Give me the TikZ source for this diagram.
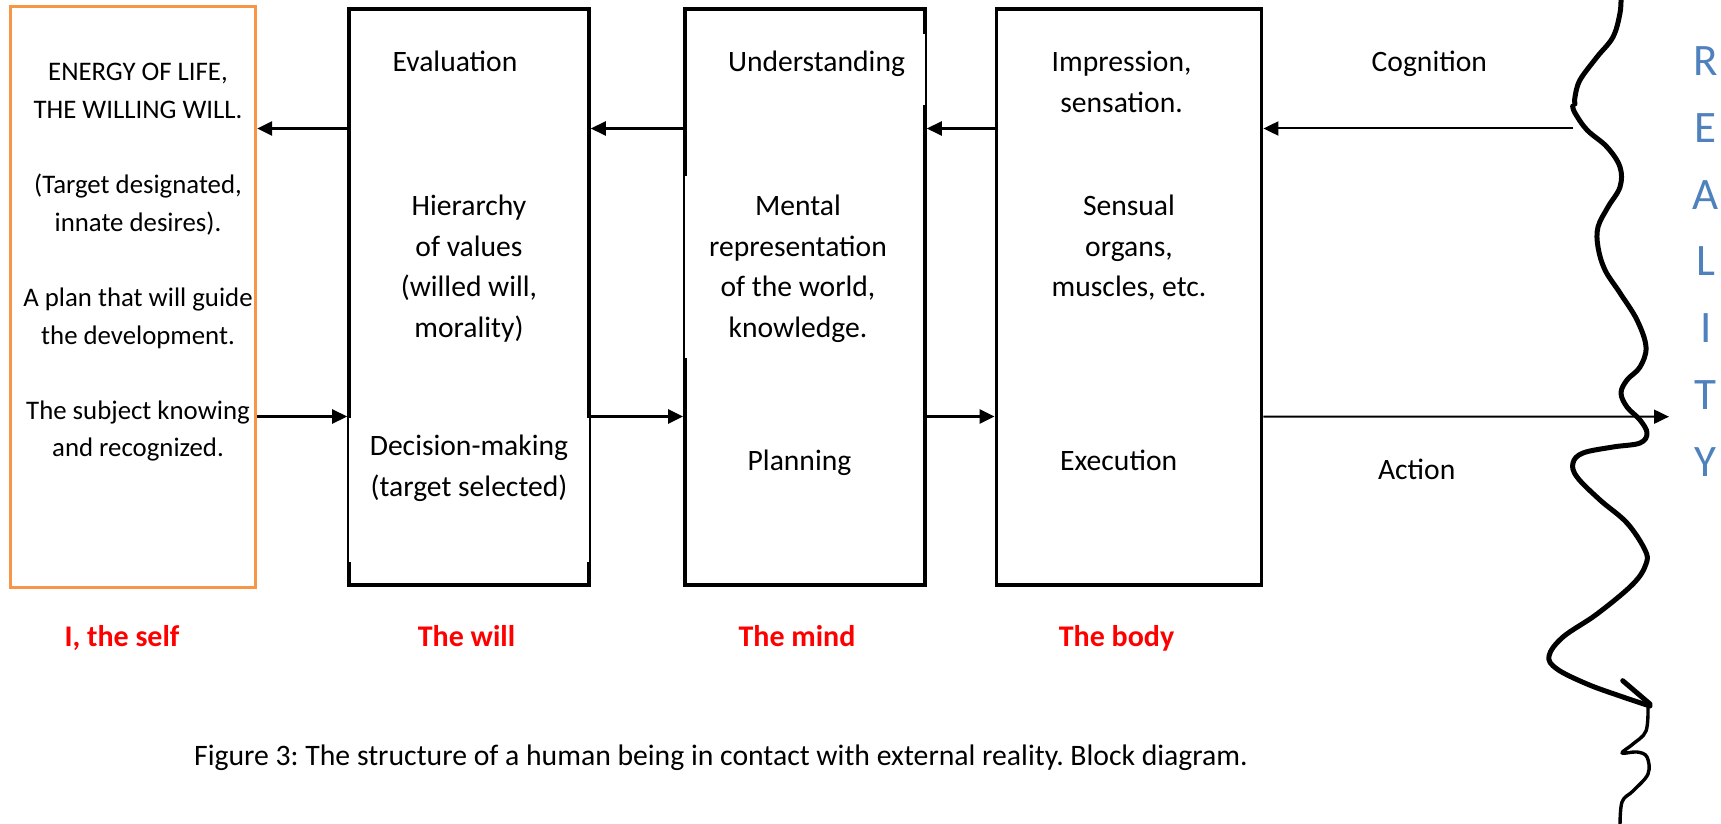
\documentclass[tikz,border=0pt]{standalone}
\usepackage{fontspec}
\setmainfont{Carlito}
\usetikzlibrary{arrows.meta}

\definecolor{selforange}{HTML}{F79646}
\definecolor{realblue}{HTML}{4F81BD}
\definecolor{labelred}{HTML}{FF0000}

% centred stack of lines whose baseline is that of the first line
\newcommand{\linestack}[1]{\begin{tabular}[t]{@{}c@{}}#1\end{tabular}}

\begin{document}
\frenchspacing
\begin{tikzpicture}[x=0.5pt,y=-0.5pt,
  blk/.style={draw=black, line width=1.8pt, inner sep=0pt, minimum height=288.15pt},
  selfbox/.style={draw=selforange, line width=1.5pt, inner sep=0pt, minimum width=122.65pt, minimum height=290pt},
  txt/.style={inner sep=0pt, anchor=base, font=\fontsize{14.8}{20.3}\selectfont},
  lefttxt/.style={inner sep=0pt, anchor=base, font=\fontsize{13.4}{18.8}\selectfont},
  part/.style={inner sep=0pt, anchor=base, text=labelred, font=\bfseries\fontsize{15}{18}\selectfont},
  conn/.style={line width=1.3pt, -{Triangle[length=7.5pt,width=7pt]}},
  flow/.style={line width=1pt, -{Triangle[length=7.5pt,width=7pt]}},
  wave/.style={line width=2.5pt, line cap=round, line join=round},
  thinwave/.style={line width=1.7pt, line cap=round, line join=round}]

\useasboundingbox (0,0) rectangle (1721,824);

% levels of the two rows of connectors
\coordinate (up) at (0,128.5);
\coordinate (low) at (0,416.5);

% the four blocks
\node[selfbox] (self) at (133,297) {};
\node[blk, minimum width=120pt] (will) at (469,296.9) {};
\node[blk, minimum width=120.1pt] (mind) at (804.9,296.9) {};
\node[blk, minimum width=132.6pt] (body) at (1129,296.9) {};

% text panels laid over parts of the block borders
\fill[white] (349,417.5) rectangle (589,561.5);
\fill[white] (684.8,176) rectangle (760,358);
\fill[white] (880,33.6) rectangle (925,104.8);

% I, the self
\node[lefttxt] (selftext) at (138,81) {\linestack{ENERGY OF LIFE,\\THE WILLING WILL.\\ \\(Target designated,\\innate desires).\\ \\A plan that will guide\\the development.\\ \\The subject knowing\\and recognized.}};

% the will
\node[txt] (evaluation) at (455,71.2) {Evaluation};
\node[txt] (hierarchy) at (469,215.5) {\linestack{Hierarchy\\of values\\(willed will,\\morality)}};
\node[txt] (decision) at (469,455.5) {\linestack{Decision-making\\(target selected)}};

% the mind
\node[txt] (understanding) at (816.5,72) {Understanding};
\node[txt] (mental) at (798,215.5) {\linestack{Mental\\representation\\of the world,\\knowledge.}};
\node[txt] (planning) at (799.5,470.5) {Planning};

% the body
\node[txt] (impression) at (1121.6,72) {\linestack{Impression,\\sensation.}};
\node[txt] (sensual) at (1129,215.5) {\linestack{Sensual\\organs,\\muscles, etc.}};
\node[txt] (execution) at (1118.7,470.5) {Execution};

% exchange with the outside
\node[txt] (cognition) at (1429.3,72) {Cognition};
\node[txt] (action) at (1416.7,479) {Action};
\node[inner sep=0pt, anchor=base, text=realblue, font=\fontsize{22.5}{33.4}\selectfont] (reality) at (1705.7,75.5) {\linestack{R\\E\\A\\L\\I\\T\\Y}};

% block names
\node[part] (lself) at (122,646.7) {I, the self};
\node[part] (lwill) at (466.5,646.7) {The will};
\node[part] (lmind) at (797,646.7) {The mind};
\node[part] (lbody) at (1116.5,646.7) {The body};

\node[inner sep=0pt, anchor=base, font=\fontsize{14.85}{18}\selectfont] (caption) at (721,765.7) {Figure 3: The structure of a human being in contact with external reality. Block diagram.};

% the boundary of reality
\draw[wave] plot[smooth, tension=0.6] coordinates {(1621,-4) (1620,13) (1613,37) (1597,57) (1580,80) (1575,97) (1575,104)};
\draw[wave] plot[smooth, tension=0.6] coordinates {(1572.7,106) (1575,113) (1587,130) (1607,147) (1620,167) (1620,187) (1608,207) (1598,227) (1598,247) (1605,270) (1620,293) (1637,320) (1646,347) (1640,367) (1627,380) (1621,393) (1627,407) (1640,420) (1647,433) (1640,443) (1613,447) (1583,453) (1573,463) (1577,477) (1600,500) (1627,523) (1645,550) (1646,564) (1633,584) (1597,614) (1563,637) (1549,656) (1557,669) (1587,684) (1620,696) (1650,706)};
\draw[wave] (1622.7,680.7) -- (1650,704);
\draw[thinwave] plot[smooth, tension=0.6] coordinates {(1648,706) (1646,731) (1633,744) (1622,753) (1637,752) (1647,757) (1648,774) (1633,791) (1622,802) (1620,828)};

\coordinate (cog) at (1573,128.5);
\coordinate (act) at (1669,416.7);

% connectors, upper row towards the self
\draw[conn] (will.west |- up) -- (self.east |- up);
\draw[conn] (mind.west |- up) -- (will.east |- up);
\draw[conn] (body.west |- up) -- (mind.east |- up);
\draw[flow] (cog) -- (body.east |- up);
% lower row towards reality
\draw[conn] (self.east |- low) -- (will.west |- low);
\draw[conn] (will.east |- low) -- (mind.west |- low);
\draw[conn] (mind.east |- low) -- (body.west |- low);
\draw[flow] (body.east |- low) -- (act);
\end{tikzpicture}
\end{document}
